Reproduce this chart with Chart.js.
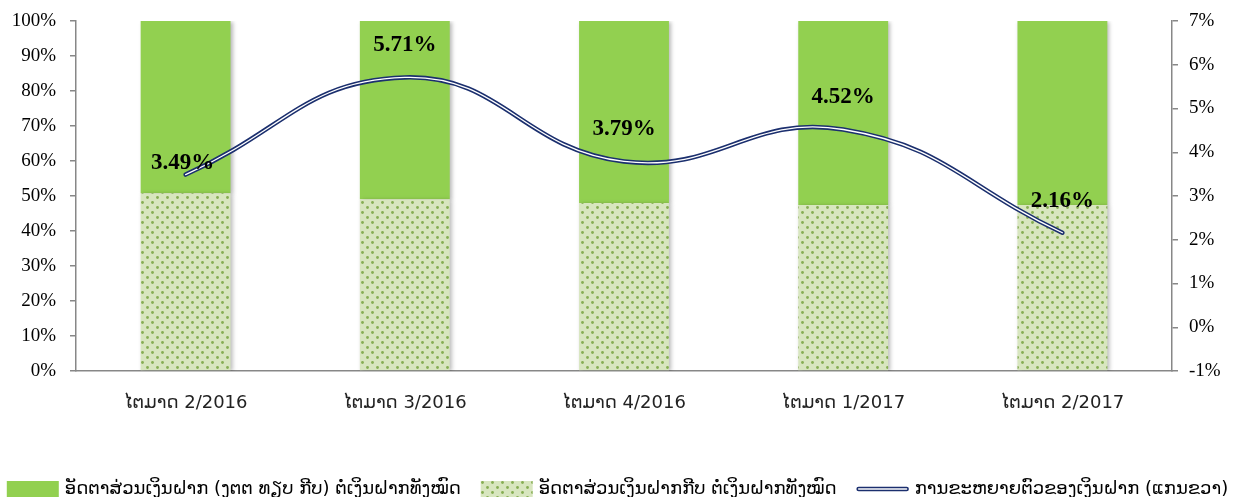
<!DOCTYPE html>
<html>
<head>
<meta charset="utf-8">
<script src="https://cdn.jsdelivr.net/npm/chart.js@4"></script>
<style>
  html, body { margin:0; padding:0; background:#fff; }
  #wrap { width:1235px; height:497px; }
</style>
</head>
<body>
<div id="wrap"><canvas id="chart" width="1235" height="497"></canvas></div>
<script>
const categories = ['ໄຕມາດ 2/2016', 'ໄຕມາດ 3/2016', 'ໄຕມາດ 4/2016', 'ໄຕມາດ 1/2017', 'ໄຕມາດ 2/2017'];
const kipShare = [50.8, 49.1, 48.0, 47.4, 47.4];          // % of deposits in kip (dotted, bottom)
const fxShare = [49.2, 50.9, 52.0, 52.6, 52.6];           // % of deposits in foreign currency (green, top)
const depositGrowth = [3.49, 5.71, 3.79, 4.52, 2.16];      // % growth (right axis)
const growthLabels = ['3.49%', '5.71%', '3.79%', '4.52%', '2.16%'];
const leftTicks = [0, 10, 20, 30, 40, 50, 60, 70, 80, 90, 100];
const rightTicks = [-1, 0, 1, 2, 3, 4, 5, 6, 7];

const labelFx = 'ອັດຕາສ່ວນເງິນຝາກ (ງຕຕ ທຽບ ກີບ) ຕໍ່ເງິນຝາກທັງໝົດ';
const labelKip = 'ອັດຕາສ່ວນເງິນຝາກກີບ ຕໍ່ເງິນຝາກທັງໝົດ';
const labelGrowth = 'ການຂະຫຍາຍຕົວຂອງເງິນຝາກ (ແກນຂວາ)';

const GREEN = '#92d050';
const NAVY = '#1b2f6e';
const AXIS = '#878787';
const LAO_FONT = "'DejaVu Sans', 'Noto Sans', sans-serif";
const SERIF = "'Liberation Serif', 'Times New Roman', serif";

function dotPattern(){
  const c = document.createElement('canvas'); c.width = 10; c.height = 10;
  const g = c.getContext('2d');
  g.fillStyle = '#d8e6bf'; g.fillRect(0,0,10,10);
  g.fillStyle = '#86ad52';
  [[2.5,2.5],[7.5,7.5]].forEach(([x,y])=>{ g.beginPath(); g.arc(x,y,1.4,0,Math.PI*2); g.fill(); });
  return g.createPattern(c, 'repeat');
}
const dots = dotPattern();

// light shadow under the bars
const barShadow = {
  id:'barShadow',
  beforeDatasetDraw(chart, args){
    if (args.meta.type !== 'bar') return;
    const ctx = chart.ctx; ctx.save();
    ctx.shadowColor = 'rgba(0,0,0,0.28)'; ctx.shadowBlur = 4; ctx.shadowOffsetX = 2; ctx.shadowOffsetY = 1;
  },
  afterDatasetDraw(chart, args){ if (args.meta.type === 'bar') chart.ctx.restore(); }
};

// value labels above the growth line
const growthValueLabels = {
  id:'growthValueLabels',
  afterDatasetsDraw(chart){
    const meta = chart.getDatasetMeta(3);
    const ctx = chart.ctx; ctx.save();
    ctx.font = `bold 23px ${SERIF}`; ctx.fillStyle = '#000'; ctx.textAlign = 'center'; ctx.textBaseline = 'middle';
    meta.data.forEach((pt, i) => {
      const dy = i === 0 ? -12 : -32;
      const dx = i === 0 ? -3 : 0;
      ctx.fillText(growthLabels[i], pt.x + dx, pt.y + dy);
    });
    ctx.restore();
  }
};

// bottom legend drawn by hand (double line swatch for the growth series)
const bottomLegend = {
  id:'bottomLegend',
  afterDraw(chart){
    const ctx = chart.ctx; ctx.save();
    ctx.font = `18px ${LAO_FONT}`; ctx.textBaseline = 'middle'; ctx.fillStyle = '#000';
    const items = [
      { text: labelFx, kind:'box', fill: GREEN },
      { text: labelKip, kind:'box', fill: dots },
      { text: labelGrowth, kind:'line' }
    ];
    const sw = 52, gapIn = 6, gapOut = 20, y = 489;
    const total = items.reduce((s, it) => s + sw + gapIn + ctx.measureText(it.text).width, 0) + gapOut * (items.length - 1);
    let x = Math.max(2, (chart.width - total) / 2);
    items.forEach(it => {
      if (it.kind === 'box'){
        ctx.fillStyle = it.fill; ctx.fillRect(x, y - 8, sw, 16);
      } else {
        ctx.lineCap = 'round';
        ctx.strokeStyle = NAVY; ctx.lineWidth = 4.5;
        ctx.beginPath(); ctx.moveTo(x + 2, y); ctx.lineTo(x + sw - 2, y); ctx.stroke();
        ctx.strokeStyle = '#fff'; ctx.lineWidth = 1.3;
        ctx.beginPath(); ctx.moveTo(x + 2, y); ctx.lineTo(x + sw - 2, y); ctx.stroke();
      }
      ctx.fillStyle = '#000';
      ctx.fillText(it.text, x + sw + gapIn, y);
      x += sw + gapIn + ctx.measureText(it.text).width + gapOut;
    });
    ctx.restore();
  }
};

function noPad(s){ s.paddingTop = 0; s.paddingBottom = 0; }

new Chart(document.getElementById('chart'), {
  data: {
    labels: categories,
    datasets: [
      { type:'bar', label: labelKip, data: kipShare, backgroundColor: dots, yAxisID:'y', stack:'s', order:2,
        categoryPercentage:1, barPercentage:0.41 },
      { type:'bar', label: labelFx, data: fxShare, backgroundColor: GREEN, yAxisID:'y', stack:'s', order:2,
        categoryPercentage:1, barPercentage:0.41 },
      { type:'line', label: labelGrowth, data: depositGrowth, yAxisID:'y1', borderColor: NAVY, borderWidth:4.5,
        tension:0.45, pointRadius:0, fill:false, order:1, borderCapStyle:'round' },
      { type:'line', label: labelGrowth, data: depositGrowth, yAxisID:'y1', borderColor:'#fff', borderWidth:1.3,
        tension:0.45, pointRadius:0, fill:false, order:0, borderCapStyle:'round' }
    ]
  },
  options: {
    responsive:false, animation:false,
    layout:{ padding:{ top:21, left:0, right:0, bottom:0 } },
    plugins:{ legend:{ display:false }, tooltip:{ enabled:false } },
    scales:{
      x:{
        grid:{ display:false, drawTicks:false },
        border:{ display:true, color:AXIS, width:1.5 },
        ticks:{ font:{ family:LAO_FONT, size:18 }, color:'#222', padding:22 },
        afterFit(s){ s.height = 126; s.paddingLeft = 0; s.paddingRight = 0; }
      },
      y:{
        position:'left', stacked:true, min:0, max:100,
        afterBuildTicks(s){ s.ticks = leftTicks.map(v => ({ value:v })); },
        grid:{ drawOnChartArea:false, drawTicks:true, tickLength:6, color:AXIS, lineWidth:1.5 },
        border:{ color:AXIS, width:1.5 },
        ticks:{ font:{ family:SERIF, size:19 }, color:'#000', padding:14, callback:v => v + '%' },
        afterFit(s){ s.width = 76; noPad(s); }
      },
      y1:{
        position:'right', min:-1, max:7,
        afterBuildTicks(s){ s.ticks = rightTicks.map(v => ({ value:v })); },
        grid:{ drawOnChartArea:false, drawTicks:true, tickLength:6, color:AXIS, lineWidth:1.5 },
        border:{ color:AXIS, width:1.5 },
        ticks:{ font:{ family:SERIF, size:19 }, color:'#000', padding:11, callback:v => v + '%' },
        afterFit(s){ s.width = 63; noPad(s); }
      }
    }
  },
  plugins:[barShadow, growthValueLabels, bottomLegend]
});
</script>
</body>
</html>
